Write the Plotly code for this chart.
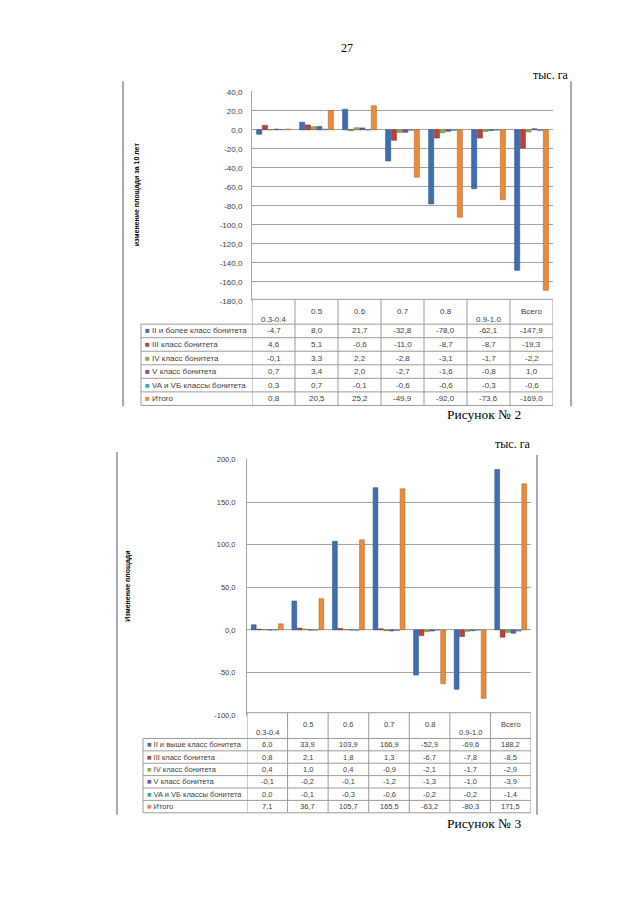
import plotly.graph_objects as go

# ---------------- data ----------------
categories = ["0.3-0.4", "0.5", "0.6", "0.7", "0.8", "0.9-1.0", "Всего"]
header_low = [True, False, False, False, False, True, False]   # wrapped header labels sit low

names_fig2 = ["II и более класс бонитета", "III класс бонитета", "IV класс бонитета",
              "V класс бонитета", "VA и VБ классы бонитета", "Итого"]
fig2_II = [-4.7, 8.0, 21.7, -32.8, -78.0, -62.1, -147.9]
fig2_III = [4.6, 5.1, -0.6, -11.0, -8.7, -8.7, -19.3]
fig2_IV = [-0.1, 3.3, 2.2, -2.8, -3.1, -1.7, -2.2]
fig2_V = [0.7, 3.4, 2.0, -2.7, -1.6, -0.8, 1.0]
fig2_VAB = [0.3, 0.7, -0.1, -0.6, -0.6, -0.3, -0.6]
fig2_total = [0.8, 20.5, 25.2, -49.9, -92.0, -73.6, -169.0]

names_fig3 = ["II и выше класс бонитета", "III класс бонитета", "IV класс бонитета",
              "V класс бонитета", "VA и VБ классы бонитета", "Итого"]
fig3_II = [6.0, 33.9, 103.9, 166.9, -52.9, -69.6, 188.2]
fig3_III = [0.8, 2.1, 1.8, 1.3, -6.7, -7.8, -8.5]
fig3_IV = [0.4, 1.0, 0.4, -0.9, -2.1, -1.7, -2.9]
fig3_V = [-0.1, -0.2, -0.1, -1.2, -1.3, -1.0, -3.9]
fig3_VAB = [0.0, -0.1, -0.3, -0.6, -0.2, -0.2, -1.4]
fig3_total = [7.1, 36.7, 105.7, 165.5, -63.2, -80.3, 171.5]

ticks_fig2 = [40, 20, 0, -20, -40, -60, -80, -100, -120, -140, -160, -180]
ticks_fig3 = [200, 150, 100, 50, 0, -50, -100]

# ---------------- style ----------------
colors = ["#3F6FB0", "#B9423E", "#8EAF4E", "#7457A0", "#3FA5C3", "#EC8A3B"]
edge = ["#2D5286", "#8C2F2C", "#6A853A", "#55407A", "#2E7E96", "#B9682A"]
W, H = 640, 905
SANS = "Liberation Sans, Arial, sans-serif"
SERIF = "Liberation Serif, Times New Roman, serif"
TXT = "#404040"
GRID = "#A3A3A3"
TLINE = "#9A9A9A"


def X(px):
    return px / W


def Y(py):
    return 1 - py / H


def fmt(v):
    return f"{v:.1f}".replace(".", ",")


fig = go.Figure()

series2 = [fig2_II, fig2_III, fig2_IV, fig2_V, fig2_VAB, fig2_total]
series3 = [fig3_II, fig3_III, fig3_IV, fig3_V, fig3_VAB, fig3_total]

for vals, nm, c, e in zip(series2, names_fig2, colors, edge):
    fig.add_trace(go.Bar(x=categories, y=vals, name=nm, marker=dict(color=c, line=dict(color=e, width=0.6)),
                         xaxis="x", yaxis="y", showlegend=False))
for vals, nm, c, e in zip(series3, names_fig3, colors, edge):
    fig.add_trace(go.Bar(x=categories, y=vals, name=nm, marker=dict(color=c, line=dict(color=e, width=0.6)),
                         xaxis="x2", yaxis="y2", showlegend=False))

annotations = []
shapes = []


def data_table(xref, names, series, leg_left, leg_right, top, head_h, row_h, fs, head_hi, head_lo):
    n = len(categories)
    body_top = top + head_h
    bottom = body_top + row_h * len(names)
    line = dict(color=TLINE, width=1)
    # header top line (category columns only)
    shapes.append(dict(type="line", xref=xref, yref="paper", x0=-0.5, x1=n - 0.5,
                       y0=Y(top), y1=Y(top), line=line))
    # row lines
    for k in range(len(names) + 1):
        yy = Y(body_top + k * row_h)
        shapes.append(dict(type="line", xref=xref, yref="paper", x0=-0.5, x1=n - 0.5,
                           y0=yy, y1=yy, line=line))
        shapes.append(dict(type="line", xref="paper", yref="paper", x0=X(leg_left), x1=X(leg_right),
                           y0=yy, y1=yy, line=line))
    # vertical lines
    for i in range(n + 1):
        shapes.append(dict(type="line", xref=xref, yref="paper", x0=i - 0.5, x1=i - 0.5,
                           y0=Y(top), y1=Y(bottom), line=line))
    shapes.append(dict(type="line", xref="paper", yref="paper", x0=X(leg_left), x1=X(leg_left),
                       y0=Y(body_top), y1=Y(bottom), line=line))
    # header labels
    for i, (cat, low) in enumerate(zip(categories, header_low)):
        annotations.append(dict(text=cat, xref=xref, yref="paper", x=i, y=Y(head_lo if low else head_hi),
                                font=dict(family=SANS, size=fs, color=TXT)))
    # body
    for k, (nm, vals, c) in enumerate(zip(names, series, colors)):
        yy = Y(body_top + (k + 0.5) * row_h)
        annotations.append(dict(text=f"<span style='color:{c}'>■</span> {nm}", xref="paper", yref="paper",
                                x=X(leg_left + 2), y=yy, xanchor="left",
                                font=dict(family=SANS, size=fs, color=TXT)))
        for i, v in enumerate(vals):
            annotations.append(dict(text=fmt(v), xref=xref, yref="paper", x=i, y=yy,
                                    font=dict(family=SANS, size=fs, color=TXT)))


data_table("x", names_fig2, series2, 141, 252, 298, 25, 13.67, 8, 310, 318.5)
data_table("x2", names_fig3, series3, 143, 247, 715, 26, 12.5, 7.5, 727, 734.5)

fig.update_layout(
    width=W, height=H, autosize=False,
    margin=dict(l=0, r=0, t=0, b=0),
    paper_bgcolor="white", plot_bgcolor="white",
    barmode="group", bargap=0.2, bargroupgap=0.12,
    font=dict(family=SANS, size=8, color=TXT),
    xaxis=dict(domain=[X(252), X(553)], range=[-0.5, 6.5], showticklabels=False, showgrid=False,
               zeroline=False, anchor="y"),
    yaxis=dict(domain=[Y(300), Y(88)], range=[-180.6, 40.6], tickvals=ticks_fig2,
               ticktext=[fmt(v) for v in ticks_fig2], gridcolor=GRID, gridwidth=1,
               showline=True, linecolor=GRID, zeroline=False, ticks="",
               tickfont=dict(size=8, color=TXT), ticklabelstandoff=7, anchor="x"),
    xaxis2=dict(domain=[X(247), X(531)], range=[-0.5, 6.5], showticklabels=False, showgrid=False,
                zeroline=False, anchor="y2"),
    yaxis2=dict(domain=[Y(718), Y(459)], range=[-100.6, 200.6], tickvals=ticks_fig3,
                ticktext=[fmt(v) for v in ticks_fig3], gridcolor=GRID, gridwidth=1,
                showline=True, linecolor=GRID, zeroline=False, ticks="",
                tickfont=dict(size=7.5, color=TXT), ticklabelstandoff=9, anchor="x2"),
)

annotations += [
    dict(text="27", x=X(347), y=Y(44), font=dict(family=SERIF, size=12, color="black")),
    dict(text="тыс. га", x=X(571), y=Y(72), xanchor="right", font=dict(family=SERIF, size=12, color="black")),
    dict(text="тыс. га", x=X(533), y=Y(444), xanchor="right", font=dict(family=SERIF, size=12, color="black")),
    dict(text="Рисунок № 2", x=X(445), y=Y(414), xanchor="left", font=dict(family=SERIF, size=13.5, color="black")),
    dict(text="Рисунок № 3", x=X(445), y=Y(827), xanchor="left", font=dict(family=SERIF, size=13.5, color="black")),
    dict(text="<b>изменение площади за 10 лет</b>", x=X(137), y=Y(192), textangle=-90,
         font=dict(family=SANS, size=7, color="black")),
    dict(text="<b>Изменение площади</b>", x=X(128), y=Y(588), textangle=-90,
         font=dict(family=SANS, size=7, color="black")),
]
for a in annotations:
    a.setdefault("xref", "paper")
    a.setdefault("yref", "paper")
    a.setdefault("showarrow", False)
    a.setdefault("yanchor", "middle")
    a.setdefault("xanchor", "center")
    fig.add_annotation(**a)

frame_line = dict(color="#555555", width=1)
shapes += [
    dict(type="line", xref="paper", yref="paper", x0=X(123), x1=X(123), y0=Y(78), y1=Y(406), line=frame_line),
    dict(type="line", xref="paper", yref="paper", x0=X(571), x1=X(571), y0=Y(78), y1=Y(406), line=frame_line),
    dict(type="line", xref="paper", yref="paper", x0=X(117), x1=X(117), y0=Y(452), y1=Y(818), line=frame_line),
    dict(type="line", xref="paper", yref="paper", x0=X(537), x1=X(537), y0=Y(455), y1=Y(818), line=frame_line),
]
for s in shapes:
    fig.add_shape(**s)

fig.write_html("out.html", config={"displayModeBar": False},
               post_script="document.body.style.margin='0';")
